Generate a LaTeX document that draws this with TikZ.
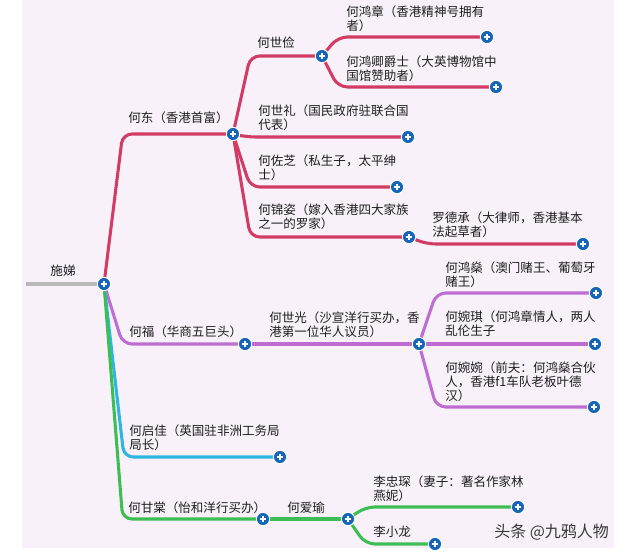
\documentclass[tikz,border=0pt]{standalone}
\usepackage{fontspec}
\setmainfont{Noto Sans CJK SC}

\definecolor{mapbg}{HTML}{F8F1F9}
\definecolor{maptext}{HTML}{1E1E1E}
\definecolor{mapred}{HTML}{D23C64}
\definecolor{mappurple}{HTML}{BE6ED2}
\definecolor{mapcyan}{HTML}{2FB6E0}
\definecolor{mapgreen}{HTML}{3DBE55}
\definecolor{mapgrey}{HTML}{B8B8B8}
\definecolor{plusblue}{HTML}{1565B8}
\definecolor{markgrey}{HTML}{3A3A3A}

\pgfdeclarelayer{back}
\pgfdeclarelayer{lines}
\pgfsetlayers{back,lines,main}

\tikzset{
  plus/.style={circle, fill=plusblue, draw=white, line width=0.7pt,
    minimum size=10pt, inner sep=0pt,
    path picture={
      \draw[white, line width=1.1pt]
        ([xshift=-2.4pt]path picture bounding box.center) -- ([xshift=2.4pt]path picture bounding box.center)
        ([yshift=-2.4pt]path picture bounding box.center) -- ([yshift=2.4pt]path picture bounding box.center);
    }},
  lbl/.style={anchor=west, inner sep=0pt, align=left, text=maptext,
    font=\fontsize{9.4}{10.5}\selectfont},
  branch/.style={line width=2.3pt, rounded corners=7pt},
}

\begin{document}
\begin{tikzpicture}[x=0.75pt, y=-0.75pt]
\useasboundingbox (0,0) rectangle (640,555);
\begin{pgfonlayer}{back}
\fill[white] (0,0) rectangle (640,555);
\fill[mapbg] (22,0) rectangle (614,548);
\end{pgfonlayer}

% Root
\coordinate (rootend) at (26,284);
\node[plus] (root) at (104,284) {};
\node[lbl, anchor=center] (t-root) at (63,271) {施娣};

% Red branch: He Dong
\node[plus] (hedong) at (233,134) {};
\node[lbl] (t-hedong) at (128,118) {何东（香港首富）};
\node[plus] (heshijian) at (322,56) {};
\node[lbl] (t-heshijian) at (257,43) {何世俭};
\node[plus] (hehongzhang) at (487,37) {};
\node[lbl] (t-hehongzhang) at (346,19) {何鸿章（香港精神号拥有\\者）};
\node[plus] (hehongqing) at (496,87) {};
\node[lbl] (t-hehongqing) at (346,69) {何鸿卿爵士（大英博物馆中\\国馆赞助者）};
\node[plus] (heshili) at (408,137) {};
\node[lbl] (t-heshili) at (258,118) {何世礼（国民政府驻联合国\\代表）};
\node[plus] (hezuozhi) at (397,187) {};
\node[lbl] (t-hezuozhi) at (258,168) {何佐芝（私生子，太平绅\\士）};
\node[plus] (hejinzi) at (409,237) {};
\node[lbl] (t-hejinzi) at (258,217) {何锦姿（嫁入香港四大家族\\之一的罗家）};
\node[plus] (luodecheng) at (583,244) {};
\node[lbl] (t-luodecheng) at (432,225) {罗德承（大律师，香港基本\\法起草者）};

% Purple branch: He Fu
\node[plus] (hefu) at (245,344) {};
\node[lbl] (t-hefu) at (129,332) {何福（华商五巨头）};
\node[plus] (heshiguang) at (419,344) {};
\node[lbl] (t-heshiguang) at (269,325) {何世光（沙宣洋行买办，香\\港第一位华人议员）};
\node[plus] (hehongshen) at (596,293) {};
\node[lbl] (t-hehongshen) at (445,275) {何鸿燊（澳门赌王、葡萄牙\\赌王）};
\node[plus] (hewanqi) at (595,344) {};
\node[lbl] (t-hewanqi) at (445,324) {何婉琪（何鸿章情人，两人\\乱伦生子};
\node[plus] (hewanwan) at (594,407) {};
\node[lbl] (t-hewanwan) at (445,382) {何婉婉（前夫：何鸿燊合伙\\人，香港f1车队老板叶德\\汉）};

% Cyan branch: He Qijia
\node[plus] (heqijia) at (280,457) {};
\node[lbl] (t-heqijia) at (129,438) {何启佳（英国驻非洲工务局\\局长）};

% Green branch: He Gantang
\node[plus] (hegantang) at (263,519) {};
\node[lbl] (t-hegantang) at (128,508) {何甘棠（怡和洋行买办）};
\node[plus] (heaiyu) at (348,519) {};
\node[lbl] (t-heaiyu) at (287,508) {何爱瑜};
\node[plus] (lizhongchen) at (518,507) {};
\node[lbl] (t-lizhongchen) at (373,489) {李忠琛（妻子：著名作家林\\燕妮）};
\node[plus] (lixiaolong) at (435,544) {};
\node[lbl] (t-lixiaolong) at (373,532) {李小龙};

% Watermark
\node[anchor=west, inner sep=0pt, text=markgrey, font=\fontsize{12}{12}\selectfont] (mark) at (494,532) {头条 @九鸦人物};

% Branch lines
\begin{pgfonlayer}{lines}
\draw[branch, mapgrey] (rootend) -- (root.center);

\draw[branch, mapred] (root.center) -- ([xshift=14pt]root.center |- hedong) -- (hedong.center);
\draw[branch, mapred] (hedong.center) -- ([xshift=13pt]hedong.center |- heshijian) -- (heshijian.center);
\draw[branch, mapred] (heshijian.center) -- ([xshift=12pt]heshijian.center |- hehongzhang) -- (hehongzhang.center);
\draw[branch, mapred] (heshijian.center) -- ([xshift=12pt]heshijian.center |- hehongqing) -- (hehongqing.center);
\draw[branch, mapred] (hedong.center) -- ([xshift=10pt]hedong.center |- heshili) -- (heshili.center);
\draw[branch, mapred] (hedong.center) -- ([xshift=13pt]hedong.center |- hezuozhi) -- (hezuozhi.center);
\draw[branch, mapred] (hedong.center) -- ([xshift=13pt]hedong.center |- hejinzi) -- (hejinzi.center);
\draw[branch, mapred] (hejinzi.center) -- ([xshift=13pt]hejinzi.center |- luodecheng) -- (luodecheng.center);

\draw[branch, mappurple] (root.center) -- ([xshift=14pt]root.center |- hefu) -- (hefu.center);
\draw[branch, mappurple] (hefu.center) -- (heshiguang.center);
\draw[branch, mappurple] (heshiguang.center) -- ([xshift=13pt]heshiguang.center |- hehongshen) -- (hehongshen.center);
\draw[branch, mappurple] (heshiguang.center) -- (hewanqi.center);
\draw[branch, mappurple] (heshiguang.center) -- ([xshift=13pt]heshiguang.center |- hewanwan) -- (hewanwan.center);

\draw[branch, mapcyan] (root.center) -- ([xshift=15pt]root.center |- heqijia) -- (heqijia.center);

\draw[branch, mapgreen] (root.center) -- ([xshift=14pt]root.center |- hegantang) -- (hegantang.center);
\draw[branch, mapgreen] (hegantang.center) -- (heaiyu.center);
\draw[branch, mapgreen] (heaiyu.center) -- ([xshift=13pt]heaiyu.center |- lizhongchen) -- (lizhongchen.center);
\draw[branch, mapgreen] (heaiyu.center) -- ([xshift=13pt]heaiyu.center |- lixiaolong) -- (lixiaolong.center);
\end{pgfonlayer}
\end{tikzpicture}
\end{document}
